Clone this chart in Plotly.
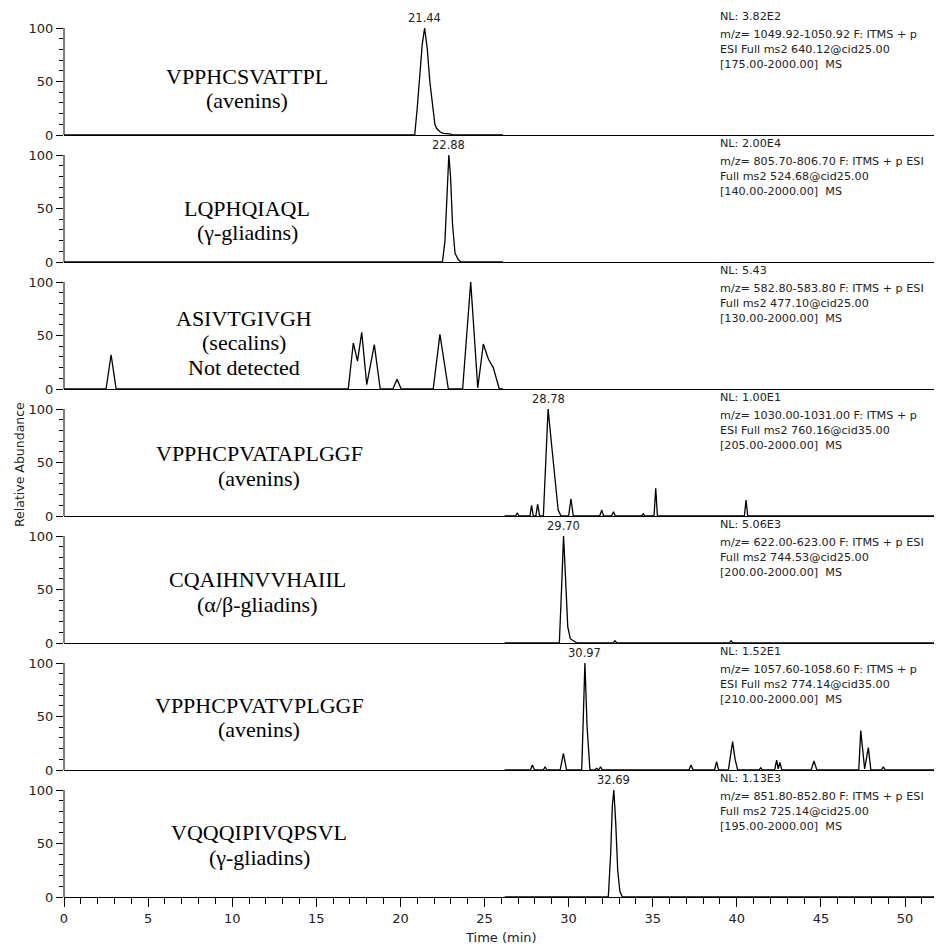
import plotly.graph_objects as go
from plotly.subplots import make_subplots

# ---------------- data ----------------
peptides = [
    ["VPPHCSVATTPL", "(avenins)"],
    ["LQPHQIAQL", "(γ-gliadins)"],
    ["ASIVTGIVGH", "(secalins)", "Not detected"],
    ["VPPHCPVATAPLGGF", "(avenins)"],
    ["CQAIHNVVHAIIL", "(α/β-gliadins)"],
    ["VPPHCPVATVPLGGF", "(avenins)"],
    ["VQQQIPIVQPSVL", "(γ-gliadins)"],
]

info_texts = [
    ["NL: 3.82E2", "m/z= 1049.92-1050.92 F: ITMS + p", "ESI Full ms2 640.12@cid25.00", "[175.00-2000.00]  MS"],
    ["NL: 2.00E4", "m/z= 805.70-806.70 F: ITMS + p ESI", "Full ms2 524.68@cid25.00", "[140.00-2000.00]  MS"],
    ["NL: 5.43", "m/z= 582.80-583.80 F: ITMS + p ESI", "Full ms2 477.10@cid25.00", "[130.00-2000.00]  MS"],
    ["NL: 1.00E1", "m/z= 1030.00-1031.00 F: ITMS + p", "ESI Full ms2 760.16@cid35.00", "[205.00-2000.00]  MS"],
    ["NL: 5.06E3", "m/z= 622.00-623.00 F: ITMS + p ESI", "Full ms2 744.53@cid25.00", "[200.00-2000.00]  MS"],
    ["NL: 1.52E1", "m/z= 1057.60-1058.60 F: ITMS + p", "ESI Full ms2 774.14@cid35.00", "[210.00-2000.00]  MS"],
    ["NL: 1.13E3", "m/z= 851.80-852.80 F: ITMS + p ESI", "Full ms2 725.14@cid25.00", "[195.00-2000.00]  MS"],
]

peak_labels = ["21.44", "22.88", None, "28.78", "29.70", "30.97", "32.69"]

t1 = [0, 20.85, 21.0, 21.17, 21.3, 21.44, 21.6, 21.75, 21.86, 21.95, 22.05, 22.16, 22.35, 22.55, 22.75, 22.95, 23.1, 26.1]
y1 = [0, 0, 25, 59, 85, 100, 80, 50, 34, 20, 10, 6, 3, 1.5, 1.5, 1, 0, 0]

t2 = [0, 22.5, 22.65, 22.78, 22.88, 22.98, 23.1, 23.25, 23.45, 23.6, 26.1]
y2 = [0, 0, 20, 70, 100, 80, 35, 8, 2, 0, 0]

t3 = [0, 2.5, 2.8, 3.1, 16.9, 17.2, 17.45, 17.7, 18.0, 18.45, 18.8, 19.55, 19.8, 20.05,
      21.95, 22.35, 22.85, 23.7, 24.18, 24.6, 24.93, 25.23, 25.52, 25.88, 26.1]
y3 = [0, 0, 32, 0, 0, 43, 26, 53, 4, 41.5, 0, 0, 9, 0,
      0, 51, 0, 0, 100, 1, 42, 28, 20, 0, 0]

t4 = [26.2, 26.85, 26.95, 27.05, 27.7, 27.8, 27.9, 28.05, 28.16, 28.28,
      28.5, 28.78, 28.98, 29.18, 29.38, 29.55, 30.0, 30.14, 30.28,
      31.85, 31.97, 32.08, 32.55, 32.67, 32.78, 34.35, 34.44, 34.53,
      35.08, 35.18, 35.28, 40.45, 40.55, 40.65, 52.2]
y4 = [0, 0, 3, 0, 0, 10, 0, 0, 11, 0,
      0, 100, 68, 34, 5.6, 0, 0, 16, 0,
      0, 5.6, 0, 0, 4, 0, 0, 2, 0,
      0, 26, 0, 0, 15, 0, 0]

t5 = [26.2, 29.45, 29.58, 29.7, 29.82, 29.95, 30.1, 30.3, 30.5, 32.65, 32.76, 32.87, 39.55, 39.66, 39.77, 52.2]
y5 = [0, 0, 50, 100, 60, 15, 4, 2, 0, 0, 2, 0, 0, 2, 0, 0]

t6 = [26.2, 27.73, 27.85, 27.97, 28.5, 28.6, 28.7, 29.5, 29.69, 29.88, 30.78, 30.97, 31.1, 31.27,
      31.55, 31.67, 31.78, 31.9, 32.0, 37.16, 37.28, 37.4, 38.68, 38.8, 38.92, 39.5, 39.75, 39.9, 40.05,
      41.32, 41.42, 41.52, 42.25, 42.37, 42.46, 42.56, 42.68, 44.42, 44.59, 44.76, 47.25, 47.37, 47.6,
      47.82, 47.97, 48.6, 48.71, 48.82, 52.2]
y6 = [0, 0, 4.7, 0, 0, 3, 0, 0, 15.6, 0, 0, 100, 40, 0,
      0, 1.5, 0, 3, 0, 0, 4.7, 0, 0, 7.8, 0, 0, 26.5, 10, 0,
      0, 2, 0, 0, 9.3, 1, 7, 0, 0, 8.4, 0, 0, 36.8, 1,
      20.9, 0, 0, 3, 0, 0]

t7 = [26.2, 32.36, 32.5, 32.6, 32.69, 32.8, 32.92, 33.05, 33.2, 52.2]
y7 = [0, 0, 40, 85, 100, 70, 25, 5, 0, 0]

times = [t1, t2, t3, t4, t5, t6, t7]
intens = [y1, y2, y3, y4, y5, y6, y7]

# ---------------- layout params ----------------
n = 7
XMAX = 52.2
YMAX = 118.7
label_x = [10.9, 10.9, 10.7, 11.6, 11.5, 11.6, 11.6]
line_y = [[55, 32], [50.3, 27.3], [66, 43, 20], [58.5, 35.5], [59, 36], [60.5, 37.5], [60, 37]]
info_y = [110.3, 93.5, 79.5, 65.5]

fig = make_subplots(rows=n, cols=1, shared_xaxes=True, vertical_spacing=0)

for i in range(n):
    r = i + 1
    fig.add_trace(go.Scatter(x=times[i], y=intens[i], mode="lines",
                             line=dict(color="black", width=1.3),
                             showlegend=False, hoverinfo="skip"), row=r, col=1)
    sfx = "" if r == 1 else str(r)
    fig.add_shape(type="line", xref=f"x{sfx} domain", yref=f"y{sfx}",
                  x0=0, x1=0, y0=0, y1=100, line=dict(color="black", width=1))
    for j, txt in enumerate(peptides[i]):
        fig.add_annotation(x=label_x[i], y=line_y[i][j], xref=f"x{sfx}", yref=f"y{sfx}",
                           text=txt, showarrow=False, xanchor="center", yanchor="middle",
                           font=dict(family="Liberation Serif", size=22, color="black"))
    for j, txt in enumerate(info_texts[i]):
        fig.add_annotation(x=38.88, y=info_y[j], xref=f"x{sfx}", yref=f"y{sfx}",
                           text=txt, showarrow=False, xanchor="left", yanchor="middle",
                           font=dict(family="DejaVu Sans", size=11.2, color="#222"))
    if peak_labels[i]:
        fig.add_annotation(x=float(peak_labels[i]), y=100, xref=f"x{sfx}", yref=f"y{sfx}",
                           text=peak_labels[i], showarrow=False, xanchor="center",
                           yanchor="middle", yshift=10,
                           font=dict(family="DejaVu Sans", size=11.5, color="#222"))

    fig.update_yaxes(row=r, col=1, range=[0, YMAX], tickmode="array", tickvals=[0, 50, 100],
                     ticktext=["0", "50", "100"], ticks="outside", ticklen=7, tickwidth=1,
                     tickcolor="black", showline=False, showgrid=False, zeroline=False,
                     tickfont=dict(family="DejaVu Sans", size=13, color="#222"),
                     minor=dict(tickmode="array", tickvals=[10, 20, 30, 40, 60, 70, 80, 90],
                                ticks="outside", ticklen=4, tickcolor="black", tickwidth=1,
                                showgrid=False))
    fig.update_xaxes(row=r, col=1, range=[0, XMAX], showline=True, linecolor="black", linewidth=1,
                     showgrid=False, zeroline=False, ticks="" if r < n else "outside")

fig.update_xaxes(row=n, col=1, tickmode="array", tickvals=list(range(0, 51, 5)),
                 ticklen=9, tickwidth=1, tickcolor="black", showticklabels=True,
                 tickfont=dict(family="DejaVu Sans", size=13, color="#222"),
                 minor=dict(tickmode="array", tickvals=[v for v in range(1, 53) if v % 5 != 0],
                            ticks="outside", ticklen=6, tickcolor="black", tickwidth=1,
                            showgrid=False))

fig.add_annotation(x=0.498, y=-0.045, xref="paper", yref="paper", text="Time (min)",
                   showarrow=False, xanchor="center", yanchor="middle",
                   font=dict(family="DejaVu Sans", size=13, color="#222"))
fig.add_annotation(x=-0.0513, y=0.487, xref="paper", yref="paper", text="Relative Abundance",
                   showarrow=False, textangle=-90, xanchor="center", yanchor="middle",
                   font=dict(family="DejaVu Sans", size=12.5, color="#222"))

# the page body adds an 8px offset, so the figure is sized to fit the 942x947 window
fig.update_layout(width=934, height=939, margin=dict(l=56, r=0, t=0, b=50),
                  paper_bgcolor="white", plot_bgcolor="white", showlegend=False)

fig.write_html("out.html")
